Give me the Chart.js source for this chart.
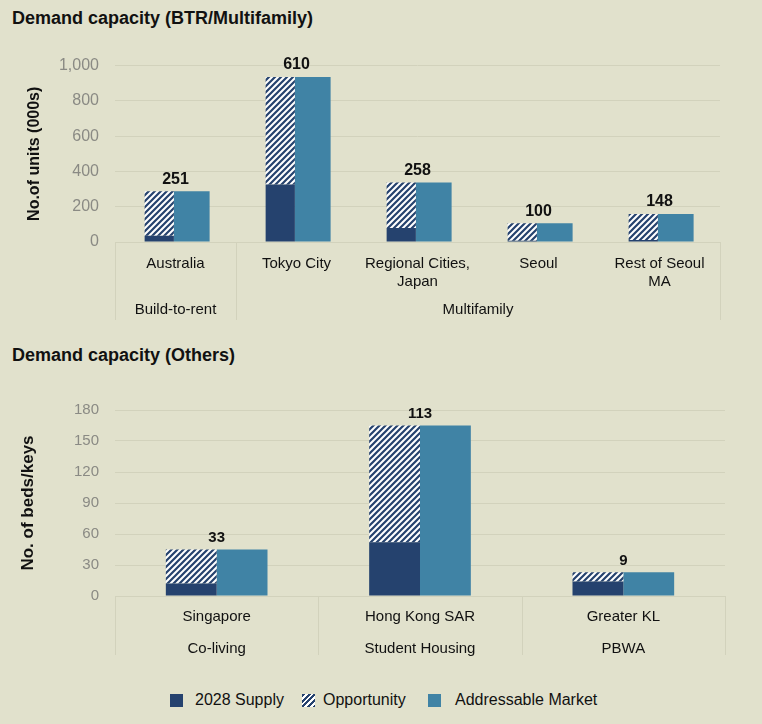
<!DOCTYPE html>
<html>
<head>
<meta charset="utf-8">
<script src="https://cdn.jsdelivr.net/npm/chart.js@4.4.0/dist/chart.umd.min.js"></script>
<style>
  body { margin: 0; background: #e1e1cc; font-family: "Liberation Sans", Arial, sans-serif; }
  #page { position: relative; width: 762px; height: 724px; overflow: hidden; background: #e1e1cc; }
  .title { position: absolute; left: 12px; font-weight: bold; font-size: 18px; color: #111; line-height: 20px; }
  .wrap { position: absolute; left: 0; width: 762px; }
  .legend-item { position: absolute; top: 691px; font-size: 16px; color: #111; line-height: 18px; white-space: nowrap; }
  .swatch { position: absolute; width: 13px; height: 13px; top: 694px; }
</style>
</head>
<body>
<div id="page">
  <div class="title" style="top:8px;">Demand capacity (BTR/Multifamily)</div>
  <div class="wrap" style="top:40px;height:285px;"><canvas id="btr-chart" width="762" height="285"></canvas></div>

  <div class="title" style="top:345px;">Demand capacity (Others)</div>
  <div class="wrap" style="top:385px;height:275px;"><canvas id="others-chart" width="762" height="275"></canvas></div>

  <div class="swatch" style="left:170px;background:#25426e;"></div>
  <div class="legend-item" style="left:195px;">2028 Supply</div>
  <div class="swatch" style="left:302px;background:repeating-linear-gradient(-45deg,#25426e 0 2px,#ffffff 2px 4px);"></div>
  <div class="legend-item" style="left:323px;">Opportunity</div>
  <div class="swatch" style="left:428px;background:#4083a5;"></div>
  <div class="legend-item" style="left:455px;">Addressable Market</div>
</div>

<script>
const NAVY = '#25426e';
const TEAL = '#4083a5';
const GRID = '#d2d2bc';
const TICK_GRAY = '#8a8a84';

// BTR / Multifamily (000s units)
const btrCities = ['Australia', 'Tokyo City', ['Regional Cities,', 'Japan'], 'Seoul', ['Rest of Seoul', 'MA']];
const btrSupply = [36, 326, 80, 7, 11];
const btrOpportunity = [251, 610, 258, 100, 148];
const btrAddressable = [287, 936, 338, 107, 159];
const btrGroups = ['Build-to-rent', 'Multifamily'];
const btrGroupSizes = [1, 4];

// Others (beds/keys)
const otherCities = ['Singapore', 'Hong Kong SAR', 'Greater KL'];
const otherSupply = [12, 52, 14];
const otherOpportunity = [33, 113, 9];
const otherAddressable = [45, 165, 23];
const otherGroups = ['Co-living', 'Student Housing', 'PBWA'];
const otherGroupSizes = [1, 1, 1];

function hatchPattern() {
  const c = document.createElement('canvas');
  c.width = 6; c.height = 6;
  const g = c.getContext('2d');
  g.fillStyle = '#ffffff';
  g.fillRect(0, 0, 6, 6);
  g.strokeStyle = NAVY;
  g.lineWidth = 2.2;
  g.beginPath();
  g.moveTo(0, 6); g.lineTo(6, 0);
  g.moveTo(-3, 3); g.lineTo(3, -3);
  g.moveTo(3, 9); g.lineTo(9, 3);
  g.stroke();
  return g.createPattern(c, 'repeat');
}

// group labels + separators under the x axis, and value labels over bars
const extrasPlugin = {
  id: 'extras',
  afterDatasetsDraw(chart, args, opts) {
    const ctx = chart.ctx;
    const x = chart.scales.x, y = chart.scales.y;
    const area = chart.chartArea;
    ctx.save();
    // value labels
    ctx.font = 'bold ' + opts.valueSize + 'px "Liberation Sans", Arial, sans-serif';
    ctx.fillStyle = '#111';
    ctx.textAlign = 'center';
    ctx.textBaseline = 'bottom';
    opts.values.forEach((v, i) => {
      const top = Math.max(opts.tops[i], opts.stackTops[i]);
      ctx.fillText(v, x.getPixelForValue(i), y.getPixelForValue(top) - 4);
    });
    // separators
    const n = chart.data.labels.length;
    const w = (area.right - area.left) / n;
    ctx.strokeStyle = GRID;
    ctx.lineWidth = 1;
    let idx = 0;
    const bounds = [0];
    opts.sizes.forEach(s => { idx += s; bounds.push(idx); });
    bounds.forEach(b => {
      const px = Math.round(area.left + b * w) + 0.5;
      ctx.beginPath();
      ctx.moveTo(px, area.bottom);
      ctx.lineTo(px, area.bottom + opts.sepLength);
      ctx.stroke();
    });
    // group labels
    ctx.font = opts.groupSize + 'px "Liberation Sans", Arial, sans-serif';
    ctx.textBaseline = 'middle';
    opts.groups.forEach((g, k) => {
      const cx = area.left + (bounds[k] + bounds[k + 1]) / 2 * w;
      ctx.fillText(g, cx, area.bottom + opts.groupOffset);
    });
    ctx.restore();
  }
};

function makeChart(id, cfg) {
  const pattern = hatchPattern();
  const stackTops = cfg.supply.map((s, i) => s + cfg.opportunity[i]);
  return new Chart(document.getElementById(id), {
    type: 'bar',
    data: {
      labels: cfg.labels,
      datasets: [
        {
          label: '2028 Supply',
          data: cfg.supply,
          backgroundColor: NAVY,
          stack: 'left',
          barPercentage: cfg.leftBar
        },
        {
          label: 'Opportunity',
          data: cfg.opportunity,
          backgroundColor: pattern,
          stack: 'left',
          barPercentage: cfg.leftBar
        },
        {
          label: 'Addressable Market',
          data: cfg.addressable,
          backgroundColor: TEAL,
          stack: 'right',
          barPercentage: cfg.rightBar
        }
      ]
    },
    options: {
      responsive: false,
      animation: false,
      devicePixelRatio: 1,
      categoryPercentage: cfg.catPct,
      layout: { padding: cfg.padding },
      plugins: {
        legend: { display: false },
        tooltip: { enabled: false },
        extras: {
          values: cfg.opportunity,
          tops: cfg.addressable,
          stackTops: stackTops,
          groups: cfg.groups,
          sizes: cfg.sizes,
          sepLength: cfg.sepLength,
          groupOffset: cfg.groupOffset,
          valueSize: cfg.valueSize,
          groupSize: 15
        }
      },
      scales: {
        x: {
          stacked: true,
          grid: { display: false, drawTicks: false },
          border: { display: true, color: GRID },
          ticks: {
            color: '#111',
            font: { size: 15, family: '"Liberation Sans", Arial, sans-serif', lineHeight: 1.2 },
            padding: cfg.tickPad,
            maxRotation: 0,
            autoSkip: false
          },
          afterFit: s => { s.height = cfg.xHeight; }
        },
        y: {
          stacked: true,
          min: 0,
          max: cfg.max,
          grid: { color: GRID, drawTicks: false },
          border: { display: false },
          ticks: {
            stepSize: cfg.step,
            padding: 16,
            color: TICK_GRAY,
            font: { size: cfg.yTickSize, family: '"Liberation Sans", Arial, sans-serif' },
            callback: v => v.toLocaleString('en-US')
          },
          title: {
            display: true,
            text: cfg.yTitle,
            color: '#111',
            font: { size: cfg.yTitleSize, weight: 'bold', family: '"Liberation Sans", Arial, sans-serif' }
          },
          afterFit: s => { s.width = 115 - cfg.padding.left; }
        }
      }
    },
    plugins: [extrasPlugin]
  });
}

const btrChart = makeChart('btr-chart', {
  labels: btrCities,
  supply: btrSupply,
  opportunity: btrOpportunity,
  addressable: btrAddressable,
  groups: btrGroups,
  sizes: btrGroupSizes,
  max: 1000,
  step: 200,
  yTitle: 'No.of units (000s)',
  yTitleSize: 16,
  yTickSize: 16,
  catPct: 0.537,
  leftBar: 0.9,
  rightBar: 1.1,
  padding: { left: 21, right: 42, top: 24, bottom: 0 },
  xHeight: 83,
  tickPad: 13,
  sepLength: 78,
  groupOffset: 68,
  valueSize: 16
});

const othersChart = makeChart('others-chart', {
  labels: otherCities,
  supply: otherSupply,
  opportunity: otherOpportunity,
  addressable: otherAddressable,
  groups: otherGroups,
  sizes: otherGroupSizes,
  max: 180,
  step: 30,
  yTitle: 'No. of beds/keys',
  yTitleSize: 17,
  yTickSize: 15,
  catPct: 0.5,
  leftBar: 1,
  rightBar: 1,
  padding: { left: 14, right: 37, top: 17, bottom: 0 },
  xHeight: 64,
  tickPad: 12,
  sepLength: 59,
  groupOffset: 53,
  valueSize: 15
});
</script>
</body>
</html>
